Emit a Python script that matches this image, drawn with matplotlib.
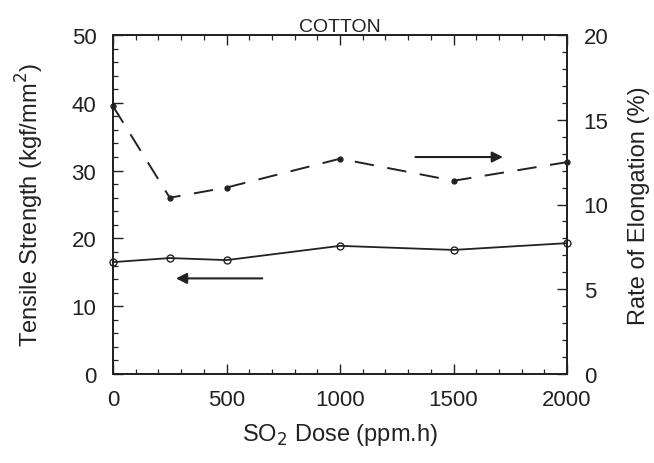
import matplotlib.pyplot as plt
from matplotlib.ticker import MultipleLocator

plt.rcParams["font.family"] = ["Liberation Sans", "DejaVu Sans"]

dose = [0, 250, 500, 1000, 1500, 2000]
tensile = [16.5, 17.1, 16.8, 18.9, 18.3, 19.3]
elongation = [15.8, 10.4, 11.0, 12.7, 11.4, 12.5]

ink = "#222222"

fig = plt.figure(figsize=(6.54, 4.64), dpi=100)
ax = fig.add_axes([113 / 654, 1 - 375 / 464, 454 / 654, 339 / 464])
ax2 = ax.twinx()

ax.plot(dose, tensile, color=ink, lw=1.3, marker="o", ms=5,
        mfc="none", mec=ink, mew=1.0, clip_on=False, zorder=3)
ax2.plot(dose, elongation, color=ink, lw=1.4, ls=(0, (10, 7)),
         marker="o", ms=3.5, clip_on=False, zorder=3)

ax.set_xlim(0, 2000)
ax.set_ylim(0, 50)
ax2.set_ylim(0, 20)

ax.xaxis.set_major_locator(MultipleLocator(500))
ax.xaxis.set_minor_locator(MultipleLocator(100))
ax.yaxis.set_major_locator(MultipleLocator(10))
ax.yaxis.set_minor_locator(MultipleLocator(2))
ax2.yaxis.set_major_locator(MultipleLocator(5))
ax2.yaxis.set_minor_locator(MultipleLocator(1))

ax.tick_params(which="both", direction="in", top=True, right=False,
               labelsize=16, colors=ink)
ax.tick_params(axis="x", pad=11)
ax.tick_params(axis="y", pad=12)
ax.tick_params(which="major", length=7, width=1.0)
ax.tick_params(which="minor", length=3.5, width=0.9)
ax2.tick_params(which="both", direction="in", labelsize=16, colors=ink, pad=12)
ax2.tick_params(which="major", length=7, width=1.0)
ax2.tick_params(which="minor", length=3.5, width=0.9)

for a in (ax, ax2):
    for s in a.spines.values():
        s.set_linewidth(1.3)
        s.set_color(ink)

ax.set_xlabel("SO$_2$ Dose (ppm.h)", fontsize=17, color=ink, labelpad=8)
ax.set_ylabel("Tensile Strength (kgf/mm$^2$)", fontsize=17, color=ink, labelpad=18)
ax2.set_ylabel("Rate of Elongation (%)", fontsize=17, color=ink, labelpad=14)
ax.set_title("COTTON", fontsize=14, color=ink, pad=2)

arrow = dict(arrowstyle="-|>", color=ink, lw=1.5, mutation_scale=16)
ax.annotate("", xy=(265, 14.1), xytext=(670, 14.1), arrowprops=arrow)
ax.annotate("", xy=(1730, 32.0), xytext=(1320, 32.0), arrowprops=arrow)

fig.savefig("out.png", dpi=100)
